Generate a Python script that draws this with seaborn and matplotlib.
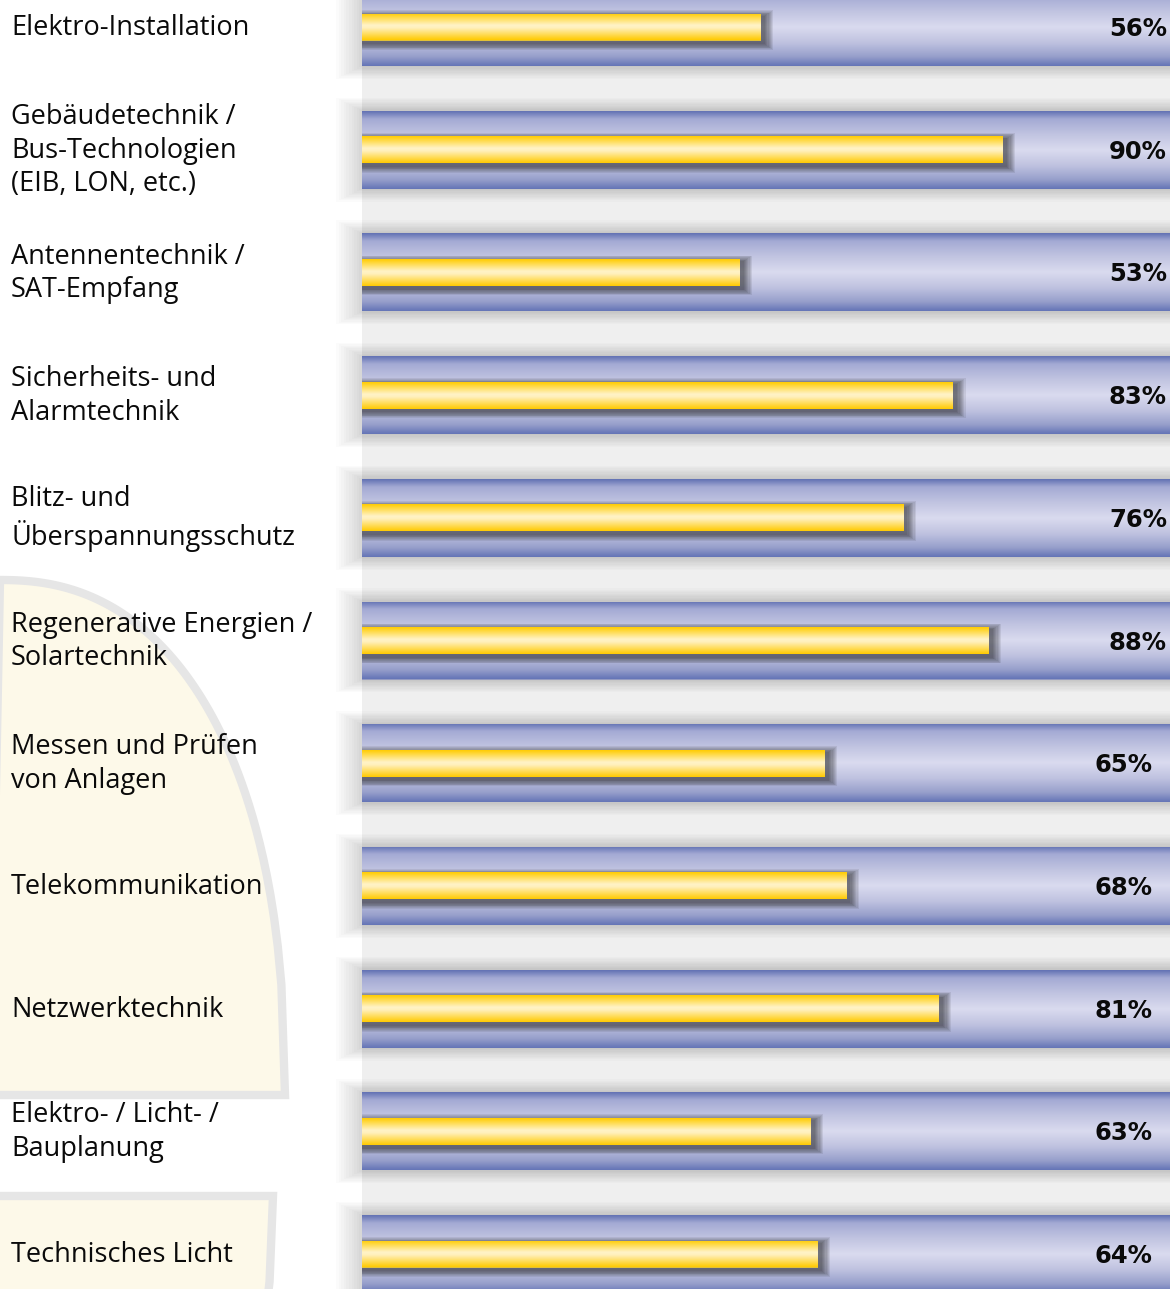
import numpy as np
import matplotlib
matplotlib.use('Agg')
import matplotlib.pyplot as plt
import seaborn as sns
from matplotlib.colors import LinearSegmentedColormap
from matplotlib.patches import Rectangle, Polygon

# Data
categories = ['Elektro-Installation',
              'Gebäudetechnik /\nBus-Technologien\n(EIB, LON, etc.)',
              'Antennentechnik /\nSAT-Empfang',
              'Sicherheits- und\nAlarmtechnik',
              'Blitz- und\nÜberspannungsschutz',
              'Regenerative Energien /\nSolartechnik',
              'Messen und Prüfen\nvon Anlagen',
              'Telekommunikation',
              'Netzwerktechnik',
              'Elektro- / Licht- /\nBauplanung',
              'Technisches Licht']
values = [56, 90, 53, 83, 76, 88, 65, 68, 81, 63, 64]
value_labels = [f'{v}%' for v in values]
track_max = 120

sns.set_theme(style='white')
plt.rcParams['font.family'] = ['Open Sans', 'DejaVu Sans']

W, H = 1170, 1289
fig = plt.figure(figsize=(W / 100, H / 100), dpi=100)
ax = fig.add_axes([0, 0, 1, 1])

# pixel scale: 0% at x=362px, 1% = 7.12px; bar pitch 122.7px, first centre at 27px
px_x = 7.12
px_y = 122.7
x0_px = 362
xlim = (-x0_px / px_x, (W - x0_px) / px_x)
ylim = (10 + (H - 27 - 10 * px_y) / px_y, -27 / px_y)

n = len(categories)
pos = np.arange(n)
track_h = 78 / px_y
bar_h = 27 / px_y

# background shapes (pale yellow arches) in figure pixels
def fig_pts(pts):
    return [(x / W, 1 - y / H) for x, y in pts]

def arch(cx, cy, a, b, p, top=True, num=80):
    xs = np.linspace(0, a, num)
    ys = b * (1 - (xs / a) ** p) ** (1 / p)
    sign = -1 if top else 1
    return [(-10, cy)] + [(cx + x, cy + sign * y) for x, y in zip(xs, ys)] + [(cx + a, cy)]

upper = arch(0, 1095, 285, 515, 2.3, top=True)
ax.add_patch(Polygon(fig_pts(upper), closed=True, transform=fig.transFigure,
                     facecolor='#fdf9e9', edgecolor='#e6e6e6', lw=6, zorder=0))
lower = arch(0, 1196, 273, 400, 2.3, top=False)
ax.add_patch(Polygon(fig_pts(lower), closed=True, transform=fig.transFigure,
                     facecolor='#fdf9e9', edgecolor='#e6e6e6', lw=6, zorder=0))

# grey panel behind the tracks
ax.add_patch(Rectangle((0, ylim[1]), track_max, ylim[0] - ylim[1],
                       facecolor='#efefef', edgecolor='none', zorder=1))

# tracks and bars
sns.barplot(x=[track_max] * n, y=pos, orient='h', width=track_h,
            color='#8c95c8', edgecolor='none', linewidth=0, ax=ax, zorder=3)
track_patches = list(ax.patches[-n:])
sns.barplot(x=values, y=pos, orient='h', width=bar_h,
            color='#ffd21a', edgecolor='none', linewidth=0, ax=ax, zorder=6)
bar_patches = list(ax.patches[-n:])

blue_cmap = LinearSegmentedColormap.from_list('blue', [
    (0.0, '#6171b3'), (0.1, '#a4aad4'), (0.3, '#c1c4e1'), (0.5, '#dadbef'),
    (0.7, '#bfc2e0'), (0.88, '#979fcb'), (1.0, '#6474b6')])
yellow_cmap = LinearSegmentedColormap.from_list('yellow', [
    (0.0, '#ffcc00'), (0.45, '#fff3c8'), (0.55, '#fff0bc'), (1.0, '#ffca00')])
grad = np.linspace(0, 1, 256).reshape(-1, 1)

for p in track_patches:
    x, y, w, h = p.get_x(), p.get_y(), p.get_width(), p.get_height()
    # soft drop shadow around the track
    for k in range(1, 11):
        dx = k * 2.6 / px_x
        dy = k * 1.3 / px_y
        ax.add_patch(Rectangle((x - dx, y - dy), w + 2 * dx, h + 2 * dy,
                               facecolor='black', alpha=0.014, edgecolor='none', zorder=2))
    im = ax.imshow(grad, cmap=blue_cmap, aspect='auto', extent=(x, x + w, y + h, y),
                   origin='upper', zorder=4, interpolation='bicubic')
    im.set_clip_path(p)

for p in bar_patches:
    x, y, w, h = p.get_x(), p.get_y(), p.get_width(), p.get_height()
    # shadow mostly to the right end of the bar
    for k in range(1, 9):
        dx = k * 1.2 / px_x
        dy = k * 0.8 / px_y
        ax.add_patch(Rectangle((x, y + 3 / px_y - dy), w + 3 / px_x + dx, h + 2 * dy,
                               facecolor='#1a1a1a', alpha=0.09, edgecolor='none', zorder=5))
    im = ax.imshow(grad, cmap=yellow_cmap, aspect='auto', extent=(x, x + w, y + h, y),
                   origin='upper', zorder=7, interpolation='bicubic')
    im.set_clip_path(p)

# category labels
trans = matplotlib.transforms.blended_transform_factory(fig.transFigure, ax.transData)
for i, c in enumerate(categories):
    ax.text(11 / W, i + 1 / px_y, c, transform=trans, ha='left', va='center',
            fontsize=19.5, linespacing=1.27, color='#0a0a0a', zorder=8)

# value labels
label_right = [1167] * 6 + [1152] * 5
for i, lab in enumerate(value_labels):
    ax.text(label_right[i] / W, i + 2 / px_y, lab, transform=trans, ha='right', va='center',
            fontsize=17.5, fontweight='bold', family='DejaVu Sans', color='#0a0a0a', zorder=8)

ax.set_xlim(*xlim)
ax.set_ylim(*ylim)
ax.axis('off')

fig.savefig('out.png', dpi=100)
